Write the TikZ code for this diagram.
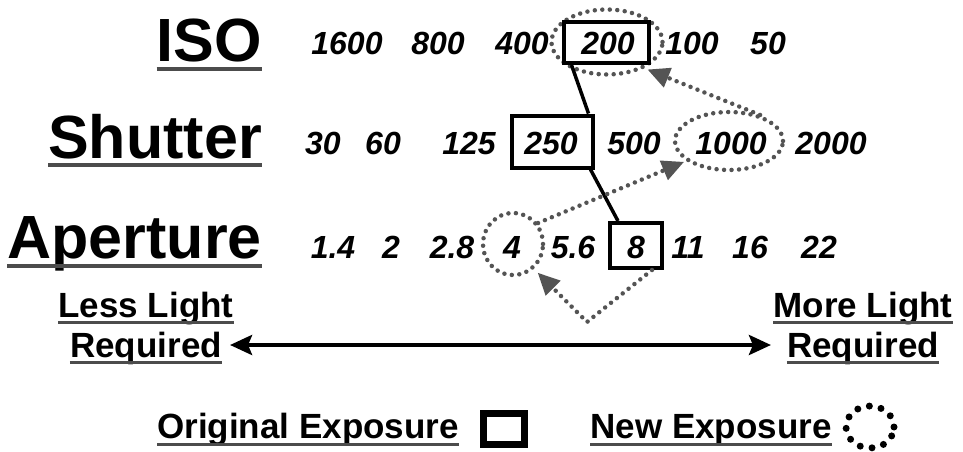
\documentclass[tikz,border=0pt]{standalone}
\usepackage{fontspec}
\setmainfont{Liberation Sans}
\usetikzlibrary{shapes.geometric,arrows.meta}
\definecolor{dotc}{gray}{0.33}
\definecolor{ulc}{gray}{0.3}
\begin{document}
\begin{tikzpicture}[x=1pt,y=-1pt,
  title/.style={font=\fontsize{61}{61}\selectfont\bfseries, anchor=base east, inner sep=0pt},
  num/.style={font=\fontsize{32}{32}\selectfont\bfseries\itshape, anchor=base, inner sep=0pt},
  lbl/.style={font=\fontsize{35}{35}\selectfont\bfseries, anchor=base, inner sep=0pt},
  origbox/.style={draw, line width=4pt, inner sep=0pt},
  newell/.style={ellipse, draw=dotc, line width=4.5pt, dash pattern=on 0pt off 7.5pt, line cap=round, inner sep=0pt},
  dotarrow/.style={draw=dotc, line width=4.5pt, dash pattern=on 0pt off 7.5pt, line cap=round, -{Triangle[length=22pt,width=20pt]}},
  ul/.style={draw=ulc, line width=3.5pt},
  link/.style={draw, line width=3.5pt}]
\useasboundingbox (0,0) rectangle (963,452);

% titles
\node[title] (tiso) at (262,62) {ISO};
\node[title] (tshut) at (262,158) {Shutter};
\node[title] (tap) at (262,258) {Aperture};
\draw[ul] ([yshift=-7pt]tiso.base west) -- ([yshift=-7pt]tiso.base east);
\draw[ul] ([yshift=-7pt]tshut.base west) -- ([yshift=-7pt]tshut.base east);
\draw[ul] ([yshift=-8pt]tap.base west) -- ([yshift=-8pt]tap.base east);

% ISO row
\node[num] (i1600) at (347,55) {1600};
\node[num] (i800) at (438,55) {800};
\node[num] (i400) at (522,55) {400};
\node[num] (i200) at (608,55) {200};
\node[num] (i100) at (692,55) {100};
\node[num] (i50) at (768,55) {50};
\node[newell, minimum width=111pt, minimum height=65pt] (e200) at (607,42) {};
\node[origbox, minimum width=85pt, minimum height=41pt] (b200) at (606,42.5) {};

% Shutter row
\node[num] (s30) at (323,154) {30};
\node[num] (s60) at (383,154) {60};
\node[num] (s125) at (469,154) {125};
\node[num] (s250) at (551,154) {250};
\node[num] (s500) at (634,154) {500};
\node[num] (s1000) at (731,154) {1000};
\node[num] (s2000) at (831,154) {2000};
\node[origbox, minimum width=81pt, minimum height=52pt] (b250) at (552,141.5) {};
\node[newell, minimum width=108pt, minimum height=58pt] (e1000) at (729,141) {};

% Aperture row
\node[num] (a14) at (333,258) {1.4};
\node[num] (a2) at (391,258) {2};
\node[num] (a28) at (452,258) {2.8};
\node[num] (a4) at (512,258) {4};
\node[num] (a56) at (573,258) {5.6};
\node[num] (a8) at (636,258) {8};
\node[num] (a11) at (688,258) {11};
\node[num] (a16) at (750,258) {16};
\node[num] (a22) at (819,258) {22};
\node[newell, minimum width=60pt, minimum height=62pt] (e4) at (513,244) {};
\node[origbox, minimum width=52pt, minimum height=45pt] (b8) at (636,245.5) {};

% original exposure links
\draw[link] ([xshift=10pt]b200.south west) -- ([xshift=-6pt]b250.north east);
\draw[link] ([xshift=-4pt]b250.south east) -- ([xshift=10pt]b8.north west);

% new exposure arrows
\draw[dotarrow, shorten >=2pt] (e4.40) -- (e1000.205);
\draw[dotarrow, shorten >=3pt] (e1000.40) -- (e200.-35);
\coordinate (bend) at (587,322);
\draw[dotarrow, shorten >=5pt] ([xshift=-12pt]b8.south east) -- (bend) -- (e4.-50);

% light scale
\node[lbl] (less1) at (146,317) {Less Light};
\node[lbl] (less2) at (146,357) {Required};
\node[lbl] (more1) at (863,317) {More Light};
\node[lbl] (more2) at (863,357) {Required};
\foreach \n in {less1,less2,more1,more2}
  \draw[ul, line width=3pt] ([yshift=-5pt]\n.base west) -- ([yshift=-5pt]\n.base east);
\draw[line width=4pt, {Stealth[length=22pt,width=20pt,inset=4pt]}-{Stealth[length=22pt,width=20pt,inset=4pt]}]
  ([xshift=8pt]less2.east |- 0,345) -- ([xshift=-16pt]more2.west |- 0,345);

% legend
\node[lbl] (origlbl) at (308,438) {Original Exposure};
\draw[ul, line width=3pt] ([yshift=-6pt]origlbl.base west) -- ([yshift=-6pt]origlbl.base east);
\node[draw, line width=7pt, minimum width=41pt, minimum height=31pt, inner sep=0pt] (origicon) at (504,429) {};
\node[lbl] (newlbl) at (711,438) {New Exposure};
\draw[ul, line width=3pt] ([yshift=-6pt]newlbl.base west) -- ([yshift=-6pt]newlbl.base east);
\node[ellipse, draw=black, line width=7pt, dash pattern=on 0pt off 12pt, line cap=round, minimum width=48pt, minimum height=42pt, inner sep=0pt] (newicon) at (870,427) {};
\end{tikzpicture}
\end{document}
